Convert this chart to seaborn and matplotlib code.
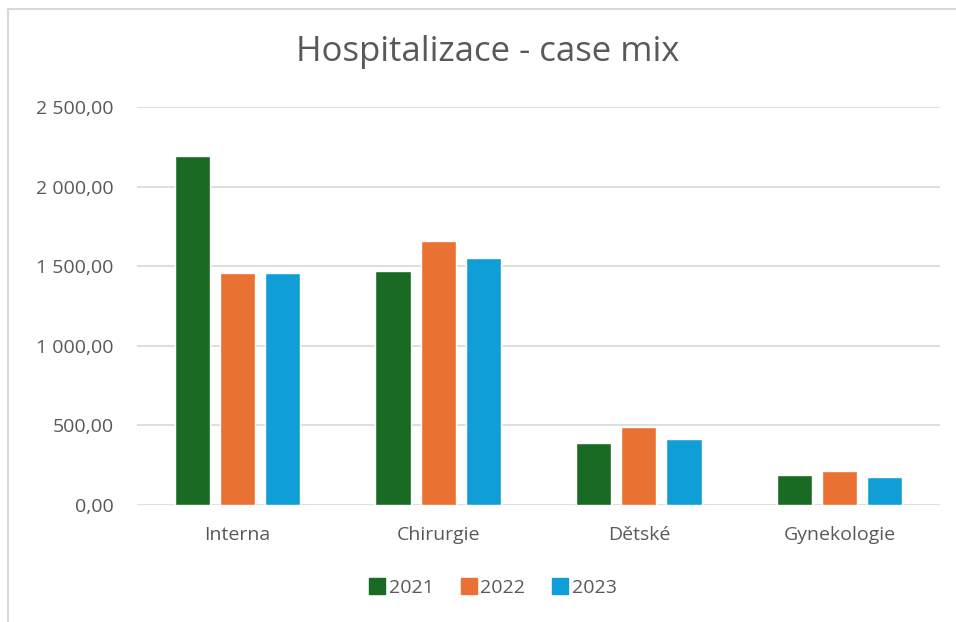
import pandas as pd
import matplotlib.pyplot as plt
import seaborn as sns
from matplotlib.lines import Line2D

# --- Data ---
oddeleni = ["Interna", "Chirurgie", "Dětské", "Gynekologie"]
roky = ["2021", "2022", "2023"]
cm_2021 = [2190, 1472, 388, 187]
cm_2022 = [1455, 1660, 491, 212]
cm_2023 = [1459, 1552, 414, 175]
barvy = ["#196B24", "#E97132", "#0F9ED5"]

df = pd.DataFrame({
    "Oddeleni": oddeleni * 3,
    "Rok": [r for r in roky for _ in oddeleni],
    "CaseMix": cm_2021 + cm_2022 + cm_2023,
})

sns.set_style("white")
plt.rcParams["font.family"] = ["Open Sans", "DejaVu Sans"]
text_color = "#595959"

fig = plt.figure(figsize=(9.56, 6.22), dpi=100)
W, H = 956, 622
ax = fig.add_axes([137 / W, (H - 505) / H, (940 - 137) / W, (505 - 107) / H])

sns.barplot(data=df, x="Oddeleni", y="CaseMix", hue="Rok", palette=barvy,
            width=0.675, gap=0.22, ax=ax, legend=False, saturation=1)

ax.set_ylim(0, 2500)
ax.set_xlim(-0.5, 3.5)
ax.set_yticks(range(0, 2501, 500))
ax.set_yticklabels([f"{v:,.2f}".replace(",", " ").replace(".", ",") for v in range(0, 2501, 500)])
ax.yaxis.grid(True, color="#D9D9D9", linewidth=1.2)
ax.set_axisbelow(True)
for s in ax.spines.values():
    s.set_visible(False)
ax.tick_params(axis="both", length=0, labelsize=14, colors=text_color)
ax.tick_params(axis="y", pad=17)
ax.tick_params(axis="x", pad=15)
ax.set_xlabel("")
ax.set_ylabel("")

fig.text(488 / W, 1 - 52 / H, "Hospitalizace - case mix", ha="center", va="center",
         fontsize=25, color=text_color)

handles = [Line2D([], [], marker="s", linestyle="none", markersize=11,
                  markerfacecolor=c, markeredgecolor=c) for c in barvy]
fig.legend(handles, roky, loc="center", bbox_to_anchor=(492 / W, 1 - 588 / H),
           ncol=3, frameon=False, fontsize=14, labelcolor=text_color,
           handletextpad=0.1, columnspacing=1.3, handlelength=1)

# chart frame (light gray border on top / left)
fig.add_artist(Line2D([8 / W, 8 / W], [0, 1 - 9 / H], color="#D9D9D9", lw=1.5))
fig.add_artist(Line2D([8 / W, 1], [1 - 9 / H, 1 - 9 / H], color="#D9D9D9", lw=1.5))

fig.savefig("out.png", dpi=100, facecolor="white")
